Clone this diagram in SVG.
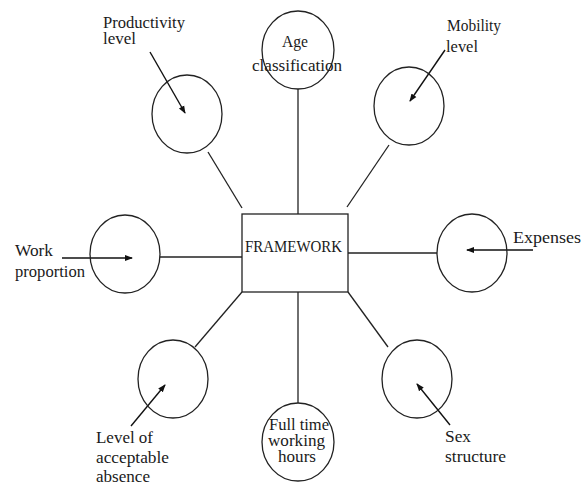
<svg xmlns="http://www.w3.org/2000/svg" width="581" height="485" viewBox="0 0 581 485">
<defs>
<marker id="ah" markerWidth="8" markerHeight="8" refX="7" refY="4" orient="auto" markerUnits="userSpaceOnUse"><path d="M0,1 L8,4 L0,7 Z" fill="#111"/></marker>
</defs>
<style>
.c{fill:none;stroke:#222;stroke-width:1.3}
.l{stroke:#222;stroke-width:1.3;fill:none}
.a{stroke:#111;stroke-width:1.4;fill:none;marker-end:url(#ah)}
text{font-family:'Liberation Serif','Times New Roman',serif;font-size:16px;fill:#1a1a1a}
</style>
<rect width="581" height="485" fill="#fff"/>
<g id="connectors">
<line class="l" x1="298" y1="89" x2="298" y2="214"/>
<line class="l" x1="208" y1="152" x2="242" y2="208"/>
<line class="l" x1="389" y1="145" x2="347" y2="207"/>
<line class="l" x1="160" y1="257" x2="242" y2="257"/>
<line class="l" x1="348" y1="253" x2="437" y2="253"/>
<line class="l" x1="195" y1="347" x2="242" y2="292"/>
<line class="l" x1="298" y1="292" x2="298" y2="403"/>
<line class="l" x1="348" y1="292" x2="388" y2="347"/>
<line class="a" x1="150" y1="52" x2="185" y2="113"/>
<line class="a" x1="445" y1="50" x2="410" y2="101"/>
<line class="a" x1="62" y1="258" x2="132" y2="258"/>
<line class="a" x1="533" y1="250" x2="467" y2="250"/>
<line class="a" x1="131" y1="426" x2="165" y2="385"/>
<line class="a" x1="450" y1="425" x2="417" y2="384"/>
</g>
<g id="framework">
<rect x="242" y="214" width="106" height="78" fill="#fff" stroke="#222" stroke-width="1.3"/>
<text x="245" y="252" textLength="97" lengthAdjust="spacingAndGlyphs">FRAMEWORK</text>
</g>
<g id="age">
<ellipse class="c" cx="298" cy="50" rx="36" ry="39"/>
<text x="282" y="47" textLength="26" lengthAdjust="spacingAndGlyphs">Age</text>
<text x="252" y="71" textLength="90" lengthAdjust="spacingAndGlyphs">classification</text>
</g>
<g id="productivity">
<ellipse class="c" cx="187" cy="114" rx="35" ry="39"/>
<text x="103" y="28" textLength="82" lengthAdjust="spacingAndGlyphs">Productivity</text>
<text x="103" y="44" textLength="33" lengthAdjust="spacingAndGlyphs">level</text>
</g>
<g id="mobility">
<ellipse class="c" cx="409" cy="106" rx="35" ry="39"/>
<text x="447" y="31" textLength="54" lengthAdjust="spacingAndGlyphs">Mobility</text>
<text x="446" y="52" textLength="32" lengthAdjust="spacingAndGlyphs">level</text>
</g>
<g id="work">
<ellipse class="c" cx="125" cy="254" rx="35" ry="39"/>
<text x="15" y="256" textLength="38" lengthAdjust="spacingAndGlyphs">Work</text>
<text x="15" y="277" textLength="70" lengthAdjust="spacingAndGlyphs">proportion</text>
</g>
<g id="expenses">
<ellipse class="c" cx="472" cy="253" rx="35" ry="39"/>
<text x="513" y="243" textLength="68" lengthAdjust="spacingAndGlyphs">Expenses</text>
</g>
<g id="absence">
<ellipse class="c" cx="173" cy="379" rx="35" ry="39"/>
<text x="96" y="443" textLength="57" lengthAdjust="spacingAndGlyphs">Level of</text>
<text x="96" y="463" textLength="73" lengthAdjust="spacingAndGlyphs">acceptable</text>
<text x="96" y="482" textLength="54" lengthAdjust="spacingAndGlyphs">absence</text>
</g>
<g id="fulltime">
<ellipse class="c" cx="298" cy="442" rx="36" ry="39"/>
<text x="269" y="430" textLength="60" lengthAdjust="spacingAndGlyphs">Full time</text>
<text x="268" y="446" textLength="57" lengthAdjust="spacingAndGlyphs">working</text>
<text x="278" y="462" textLength="38" lengthAdjust="spacingAndGlyphs">hours</text>
</g>
<g id="sex">
<ellipse class="c" cx="417" cy="379" rx="35" ry="39"/>
<text x="445" y="442" textLength="26" lengthAdjust="spacingAndGlyphs">Sex</text>
<text x="445" y="462" textLength="61" lengthAdjust="spacingAndGlyphs">structure</text>
</g>
</svg>
